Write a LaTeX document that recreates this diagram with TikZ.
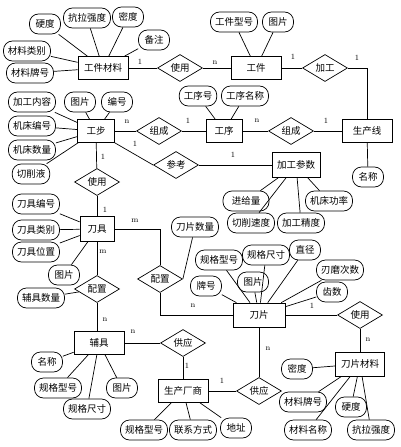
\documentclass[tikz,border=0pt]{standalone}
\usepackage{fontspec}
\usepackage{tikz}
\usetikzlibrary{positioning,shapes.geometric}
\newfontfamily\cjk{Noto Sans CJK SC}

\begin{document}
\begin{tikzpicture}[
    x=1pt, y=-1pt,
    every node/.style={font=\cjk\fontsize{9.5}{10}\selectfont},
    ent/.style={draw, minimum height=23pt, minimum width=50pt, inner sep=1pt, fill=white},
    rel/.style={draw, diamond, aspect=1.7, minimum width=45pt, minimum height=27pt,
                inner sep=0pt, fill=white},
    attr/.style={draw, rounded corners=9pt, minimum height=20pt, minimum width=31pt,
                 inner xsep=4.5pt, inner ysep=1pt, fill=white},
    card/.style={font=\footnotesize, inner sep=1pt},
    every path/.style={line width=0.7pt},
]
  \useasboundingbox (0,0) rectangle (400,447);
  % Entities
  \node[ent] (gjcl) at (103,68)  {工件材料};
  \node[ent] (gj)   at (256,68)  {工件};
  \node[ent, minimum width=37pt] (gb) at (96,131) {工步};
  \node[ent, minimum width=36pt] (gx) at (224,131) {工序};
  \node[ent] (scx)  at (367,131) {生产线};
  \node[ent, minimum width=48pt, minimum height=25pt] (jgcs) at (296,165) {加工参数};
  \node[ent, minimum width=34pt, minimum height=25pt] (dj) at (97,229) {刀具};
  \node[ent, minimum width=52pt, minimum height=24pt] (dp) at (259,315) {刀片};
  \node[ent] (fj)   at (99,343)  {辅具};
  \node[ent] (sccs) at (183,391) {生产厂商};
  \node[ent, minimum width=49pt, minimum height=24pt] (dpcl) at (360,364) {刀片材料};
  % Relationships
  \node[rel] (sy1) at (180,68)  {使用};
  \node[rel] (jg)  at (325,68)  {加工};
  \node[rel] (zc1) at (159,131) {组成};
  \node[rel] (zc2) at (291,131) {组成};
  \node[rel] (ck)  at (176,165) {参考};
  \node[rel] (sy2) at (97,182)  {使用};
  \node[rel] (pz1) at (97,289)  {配置};
  \node[rel] (pz2) at (160,279) {配置};
  \node[rel] (gy1) at (183,343) {供应};
  \node[rel] (gy2) at (259,391) {供应};
  \node[rel] (sy3) at (360,315) {使用};
  % Relationship lines
  \draw (gjcl) -- (sy1);
  \draw (sy1) -- (gj);
  \draw (gj) -- (jg);
  \draw (jg.east) -| (scx.north);
  \draw (gb) -- (zc1);
  \draw (zc1) -- (gx);
  \draw (gx) -- (zc2);
  \draw (zc2) -- (scx);
  \draw (gb.south east) -- (ck.west);
  \draw (ck) -- (jgcs);
  \draw (gb) -- (sy2);
  \draw (sy2) -- (dj);
  \draw (dj) -- (pz1);
  \draw (pz1.south) -- (pz1.south |- fj.north);
  \draw (dj.east) -| (pz2.north);
  \draw (pz2.south) |- (dp.west);
  \draw (fj) -- (gy1);
  \draw (gy1) -- (sccs);
  \draw (sccs) -- (gy2);
  \draw (gy2) -- (dp);
  \draw (dp) -- (sy3);
  \draw (sy3) -- (dpcl);
  % Cardinalities
  \node[card] (k1)  at (140,62)  {1};
  \node[card] (k2)  at (215,63)  {n};
  \node[card] (k3)  at (293,57)  {1};
  \node[card] (k4)  at (357,58)  {1};
  \node[card] (k5)  at (127,122) {n};
  \node[card] (k6)  at (188,121) {1};
  \node[card] (k7)  at (257,121) {n};
  \node[card] (k8)  at (326,121) {1};
  \node[card] (k9)  at (135,144) {1};
  \node[card] (k10) at (233,155) {1};
  \node[card] (k11) at (103,157) {1};
  \node[card] (k12) at (105,210) {1};
  \node[card] (k13) at (135,221) {m};
  \node[card] (k14) at (103,252) {m};
  \node[card] (k15) at (105,320) {n};
  \node[card] (k16) at (193,306) {n};
  \node[card] (k17) at (312,306) {1};
  \node[card] (k18) at (368,340) {n};
  \node[card] (k19) at (133,332) {n};
  \node[card] (k20) at (187,366) {1};
  \node[card] (k21) at (222,381) {1};
  \node[card] (k22) at (268,349) {n};
  % Attributes: 工件材料
  \node[attr] (a1) at (45,24)  {硬度};
  \node[attr] (a2) at (87,18)  {抗拉强度};
  \node[attr] (a3) at (128,17) {密度};
  \node[attr] (a4) at (154,40) {备注};
  \node[attr] (a5) at (27,51)  {材料类别};
  \node[attr] (a6) at (30,73)  {材料牌号};
  \foreach \a in {a1,a2,a3,a4,a5,a6} \draw (\a) -- (gjcl);
  % Attributes: 工件
  \node[attr] (b1) at (234,22) {工件型号};
  \node[attr] (b2) at (278,22) {图片};
  \foreach \a in {b1,b2} \draw (\a) -- (gj);
  % Attributes: 工序
  \node[attr] (c1) at (198,96) {工序号};
  \node[attr] (c2) at (245,96) {工序名称};
  \foreach \a in {c1,c2} \draw (\a) -- (gx);
  % Attributes: 生产线
  \node[attr] (d1) at (368,177) {名称};
  \draw (d1) -- (scx);
  % Attributes: 加工参数
  \node[attr, minimum width=46pt] (e1) at (246,201) {进给量};
  \node[attr] (e2) at (329,201) {机床功率};
  \node[attr] (e3) at (251,223) {切削速度};
  \node[attr] (e4) at (301,223) {加工精度};
  \foreach \a in {e1,e2,e3,e4} \draw (\a) -- (jgcs);
  % Attributes: 工步
  \node[attr] (f1) at (32,102)  {加工内容};
  \node[attr] (f2) at (80,102)  {图片};
  \node[attr] (f3) at (117,102) {编号};
  \node[attr] (f4) at (32,126)  {机床编号};
  \node[attr] (f5) at (32,150)  {机床数量};
  \node[attr] (f6) at (31,174)  {切削液};
  \foreach \a in {f1,f2,f3,f4,f5,f6} \draw (\a) -- (gb);
  % Attributes: 刀具
  \node[attr] (g1) at (36,204) {刀具编号};
  \node[attr] (g2) at (36,230) {刀具类别};
  \node[attr] (g3) at (36,252) {刀具位置};
  \node[attr] (g4) at (64,275) {图片};
  \foreach \a in {g1,g2,g3,g4} \draw (\a) -- (dj);
  % Attributes: 配置
  \node[attr] (h1) at (41,298)  {辅具数量};
  \draw (h1) -- (pz1);
  \node[attr] (h2) at (195,227) {刀片数量};
  \draw (h2) -- (pz2.east);
  % Attributes: 刀片
  \node[attr] (i1) at (219,260) {规格型号};
  \node[attr] (i2) at (266,255) {规格尺寸};
  \node[attr] (i3) at (305,250) {直径};
  \node[attr] (i4) at (340,270) {刃磨次数};
  \node[attr] (i5) at (332,292) {齿数};
  \node[attr] (i6) at (253,282) {图片};
  \node[attr] (i7) at (206,286) {牌号};
  \foreach \a in {i1,i2,i3,i4,i5,i6,i7} \draw (\a) -- (dp);
  % Attributes: 辅具
  \node[attr] (j1) at (47,362)  {名称};
  \node[attr] (j2) at (58,388)  {规格型号};
  \node[attr] (j3) at (87,409)  {规格尺寸};
  \node[attr] (j4) at (122,388) {图片};
  \foreach \a in {j1,j2,j3,j4} \draw (\a) -- (fj);
  % Attributes: 生产厂商
  \node[attr] (l1) at (144,430) {规格型号};
  \node[attr] (l2) at (193,430) {联系方式};
  \node[attr] (l3) at (236,428) {地址};
  \foreach \a in {l1,l2,l3} \draw (\a) -- (sccs);
  % Attributes: 刀片材料
  \node[attr] (m1) at (297,369) {密度};
  \node[attr] (m2) at (303,402) {材料牌号};
  \node[attr] (m3) at (351,407) {硬度};
  \node[attr] (m4) at (308,430) {材料名称};
  \node[attr] (m5) at (371,430) {抗拉强度};
  \foreach \a in {m1,m2,m3,m4,m5} \draw (\a) -- (dpcl);
\end{tikzpicture}
\end{document}
